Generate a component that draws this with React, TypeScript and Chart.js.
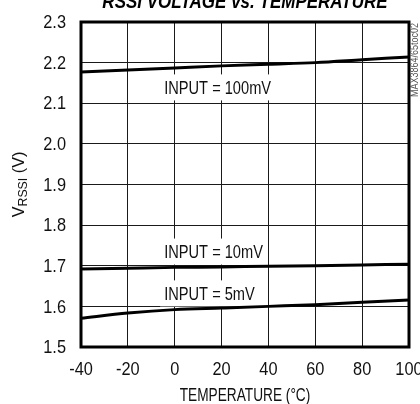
import React, { useEffect, useRef } from "react";
import { Chart, registerables } from "chart.js";

Chart.register(...registerables);

const temps = [-40, -20, 0, 20, 40, 60, 80, 100];
const input100mV = [2.177, 2.182, 2.187, 2.192, 2.196, 2.2, 2.207, 2.214];
const input10mV = [1.692, 1.694, 1.696, 1.697, 1.699, 1.7, 1.702, 1.704];
const input5mV = [1.571, 1.5835, 1.592, 1.596, 1.6, 1.604, 1.61, 1.6155];

const xTickValues = [-40, -20, 0, 20, 40, 60, 80, 100];
const yTickValues = [1.5, 1.6, 1.7, 1.8, 1.9, 2.0, 2.1, 2.2, 2.3];

const curveLabels = ["INPUT = 100mV", "INPUT = 10mV", "INPUT = 5mV"];
const labelAnchorX = [-4.5, -4.5, -4.5];
const labelAnchorY = [2.139, 1.735, 1.632];

const titleText = "RSSI VOLTAGE vs. TEMPERATURE";
const xTitleText = "TEMPERATURE (°C)";
const yTitleMain = "V";
const yTitleSub = "RSSI";
const yTitleTail = " (V)";
const sideText = "MAX3864/65toc02";

const FONT = '"Liberation Sans", Arial, sans-serif';
const INK = "#111";

function drawText(
  ctx: CanvasRenderingContext2D,
  text: string,
  x: number,
  y: number,
  font: string,
  sx: number,
  align: CanvasTextAlign,
  baseline: CanvasTextBaseline = "middle",
  color = INK,
  rotate = 0
) {
  ctx.save();
  ctx.translate(x, y);
  if (rotate) ctx.rotate(rotate);
  ctx.scale(sx, 1);
  ctx.font = font;
  ctx.fillStyle = color;
  ctx.textAlign = align;
  ctx.textBaseline = baseline;
  ctx.fillText(text, 0, 0);
  ctx.restore();
}

const decorPlugin = {
  id: "decor",
  beforeDatasetsDraw(chart: any) {
    const { ctx, scales } = chart;
    const xs = scales.x;
    const ys = scales.y;
    const font = `19px ${FONT}`;
    const sx = 0.77;
    ctx.save();
    ctx.font = font;
    curveLabels.forEach((t, i) => {
      const px = xs.getPixelForValue(labelAnchorX[i]);
      const py = ys.getPixelForValue(labelAnchorY[i]);
      const w = ctx.measureText(t).width * sx;
      ctx.fillStyle = "#fff";
      ctx.fillRect(px - 4, py - 13, w + 8, 26);
      drawText(ctx, t, px, py + 1, font, sx, "left");
    });
    ctx.restore();
  },
  afterDraw(chart: any) {
    const { ctx, chartArea, scales } = chart;
    const { left, right, top, bottom } = chartArea;
    const xs = scales.x;
    const ys = scales.y;
    ctx.save();
    ctx.strokeStyle = "#000";
    ctx.lineWidth = 3;
    ctx.strokeRect(left, top, right - left, bottom - top);
    ctx.restore();

    const numFont = `19px ${FONT}`;
    xTickValues.forEach((v) => {
      drawText(ctx, String(v), xs.getPixelForValue(v), bottom + 23, numFont, 0.86, "center");
    });
    yTickValues.forEach((v) => {
      drawText(ctx, v.toFixed(1), left - 15, ys.getPixelForValue(v) + 1, numFont, 0.86, "right");
    });

    drawText(ctx, xTitleText, (left + right) / 2, 396, `19px ${FONT}`, 0.72, "center");

    drawText(ctx, titleText, (left + right) / 2, 8, `italic bold 20px ${FONT}`, 0.85, "center", "alphabetic", "#000");

    const mainFont = `17px ${FONT}`;
    const subFont = `13px ${FONT}`;
    const ysx = 0.95;
    ctx.save();
    ctx.font = mainFont;
    const w1 = ctx.measureText(yTitleMain).width;
    const w3 = ctx.measureText(yTitleTail).width;
    ctx.font = subFont;
    const w2 = ctx.measureText(yTitleSub).width;
    const total = w1 + w2 + w3;
    ctx.translate(19, (top + bottom) / 2);
    ctx.rotate(-Math.PI / 2);
    ctx.scale(ysx, 1);
    ctx.textAlign = "left";
    ctx.textBaseline = "middle";
    ctx.fillStyle = INK;
    let cx = -total / 2;
    ctx.font = mainFont;
    ctx.fillText(yTitleMain, cx, 0);
    cx += w1;
    ctx.font = subFont;
    ctx.fillText(yTitleSub, cx, 4);
    cx += w2;
    ctx.font = mainFont;
    ctx.fillText(yTitleTail, cx, 0);
    ctx.restore();

    drawText(ctx, sideText, 415, 97, `10px ${FONT}`, 0.9, "left", "middle", "#555", -Math.PI / 2);
  },
};

export default function App() {
  const ref = useRef<HTMLCanvasElement | null>(null);
  useEffect(() => {
    if (!ref.current) return;
    const mk = (vals: number[]) => temps.map((t, i) => ({ x: t, y: vals[i] }));
    const ds = (label: string, vals: number[]) => ({
      label,
      data: mk(vals),
      borderColor: "#000",
      borderWidth: 3,
      pointRadius: 0,
      fill: false,
      cubicInterpolationMode: "monotone" as const,
    });
    const chart = new Chart(ref.current, {
      type: "line",
      data: {
        datasets: [
          ds("INPUT = 100mV", input100mV),
          ds("INPUT = 10mV", input10mV),
          ds("INPUT = 5mV", input5mV),
        ],
      },
      options: {
        animation: false,
        responsive: false,
        devicePixelRatio: 1,
        layout: { padding: { top: 22, right: 11, left: 0, bottom: 0 } },
        plugins: {
          legend: { display: false },
          tooltip: { enabled: false },
          title: { display: false },
        },
        scales: {
          x: {
            type: "linear",
            min: -40,
            max: 100,
            afterBuildTicks: (s: any) => {
              s.ticks = xTickValues.map((v) => ({ value: v }));
            },
            afterFit: (s: any) => {
              s.height = 57;
              s.paddingLeft = 0;
              s.paddingRight = 0;
            },
            grid: { color: "#1a1a1a", lineWidth: 1, drawTicks: false },
            border: { display: false },
            ticks: { display: false },
            title: { display: false },
          },
          y: {
            type: "linear",
            min: 1.5,
            max: 2.3,
            afterBuildTicks: (s: any) => {
              s.ticks = yTickValues.map((v) => ({ value: v }));
            },
            afterFit: (s: any) => {
              s.width = 81;
              s.paddingTop = 0;
              s.paddingBottom = 0;
            },
            grid: { color: "#1a1a1a", lineWidth: 1, drawTicks: false },
            border: { display: false },
            ticks: { display: false },
          },
        },
      },
      plugins: [decorPlugin],
    });
    return () => chart.destroy();
  }, []);
  return (
    <div style={{ position: "fixed", left: 0, top: 0, width: 420, height: 404, background: "#fff" }}>
      <canvas ref={ref} width={420} height={404} style={{ display: "block" }} />
    </div>
  );
}
